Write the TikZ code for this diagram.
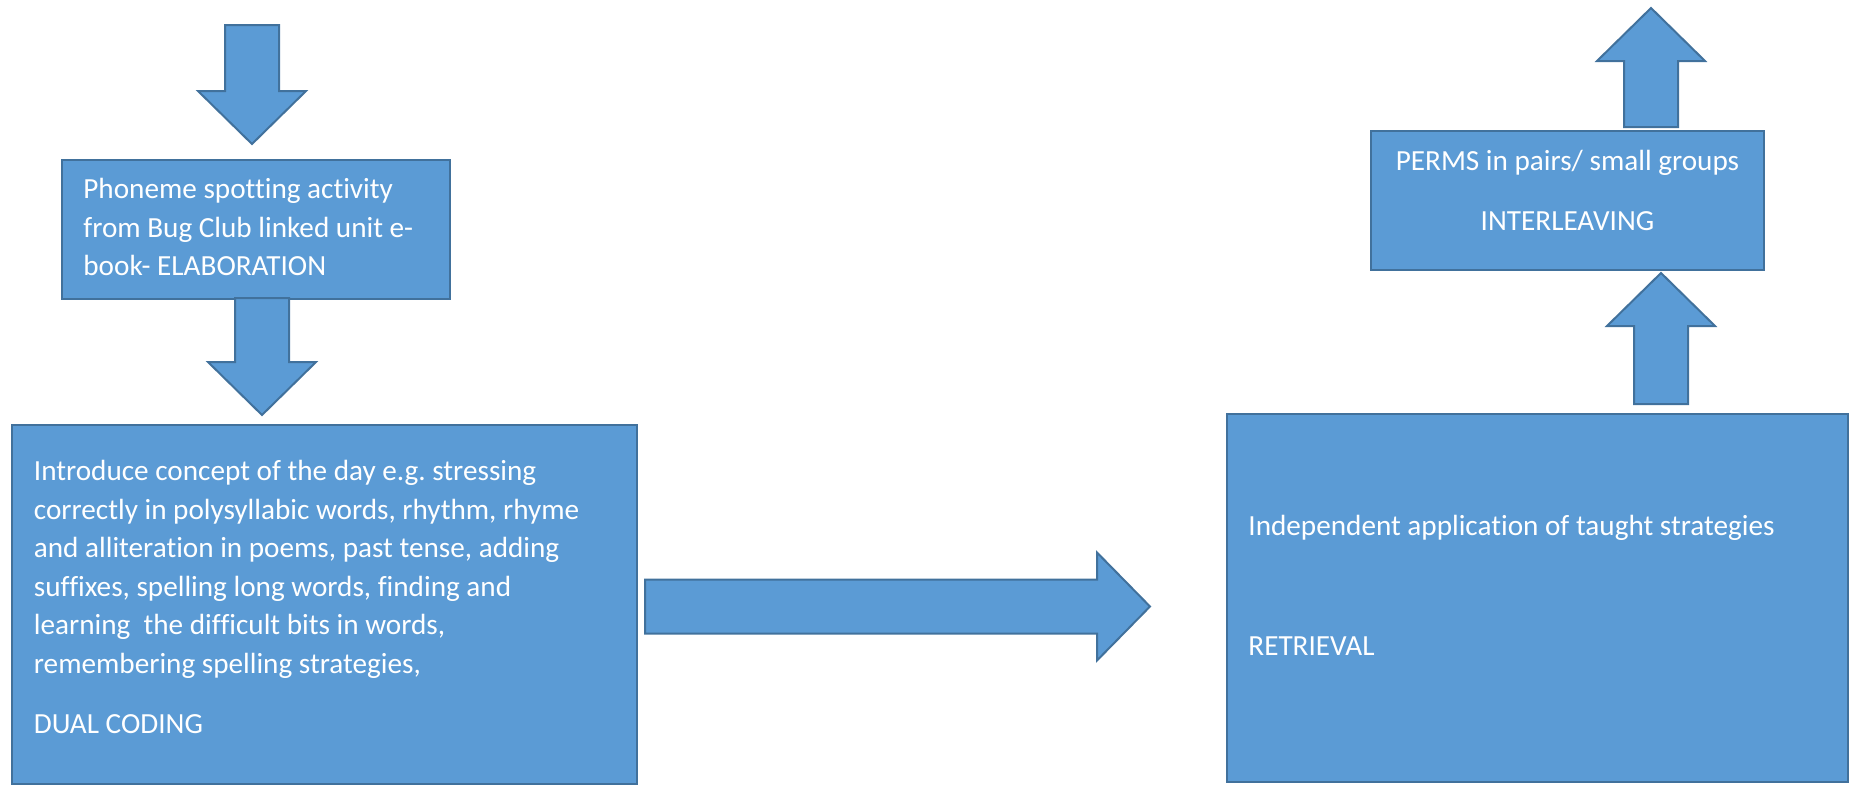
\documentclass[tikz,border=0pt]{standalone}
\usepackage{fontspec}
\setmainfont{Carlito}[Ligatures=NoCommon]
\usepackage{tikz}
\usetikzlibrary{positioning}
\definecolor{boxblue}{RGB}{91,155,213}
\definecolor{edgeblue}{RGB}{65,113,156}
\frenchspacing

\tikzset{
  blk/.style={draw=edgeblue, fill=boxblue, line width=1pt},
  stagebox/.style={blk, rectangle, inner sep=0pt, anchor=north west},
  stagetext/.style={text=white, inner sep=0pt, align=left, font=\fontsize{14.6}{19.3}\selectfont}
}
% block arrow: tail point, direction, length
\newcommand{\blockarrow}[3]{%
  \begin{scope}[shift={#1}, rotate=#2]
    \draw[blk] (0,-27) -- ({#3-53},-27) -- ({#3-53},-54) -- (#3,0) -- ({#3-53},54) -- ({#3-53},27) -- (0,27) -- cycle;
  \end{scope}}

\begin{document}
\begin{tikzpicture}[x=0.5pt, y=-0.5pt]
        \useasboundingbox (0,0) rectangle (1849,787);

        % Boxes
        \node[stagebox, minimum width=194pt, minimum height=69.5pt] (phon) at (61,159) {};
        \node[stagebox, minimum width=312.5pt, minimum height=179.5pt] (intro) at (11,424) {};
        \node[stagebox, minimum width=310.5pt, minimum height=184pt] (indep) at (1226,413) {};
        \node[stagebox, minimum width=196.5pt, minimum height=69.5pt] (perms) at (1370,130) {};

        % Block arrows
        \blockarrow{(252,25)}{-90}{119}
        \blockarrow{(262,298)}{-90}{117}
        \blockarrow{(645,606.5)}{0}{505}
        \blockarrow{(1661,404)}{90}{131}
        \blockarrow{(1651,127)}{90}{119}

        % Texts
        \node[stagetext, anchor=north west, below right=6pt and 11pt of phon.north west] (phontxt)
          {\strut Phoneme spotting activity\\from Bug Club linked unit e-\\book- ELABORATION};
        \node[stagetext, anchor=north west, below right=14.5pt and 11.25pt of intro.north west] (introtxt)
          {\strut Introduce concept of the day e.g. stressing\\correctly in polysyllabic words, rhythm, rhyme\\and alliteration in poems, past tense, adding\\suffixes, spelling long words, finding and\\learning\ \ the difficult bits in words,\\remembering spelling strategies,\\[10.7pt]DUAL CODING};
        \node[stagetext, anchor=north west, below right=47.5pt and 11pt of indep.north west] (indeptxt)
          {\strut Independent application of taught strategies\\[40.7pt]RETRIEVAL};
        \node[stagetext, align=center, below=6.5pt of perms.north] (permstxt)
          {\strut PERMS in pairs/ small groups\\[10.7pt]INTERLEAVING};
    \end{tikzpicture}
\end{document}
